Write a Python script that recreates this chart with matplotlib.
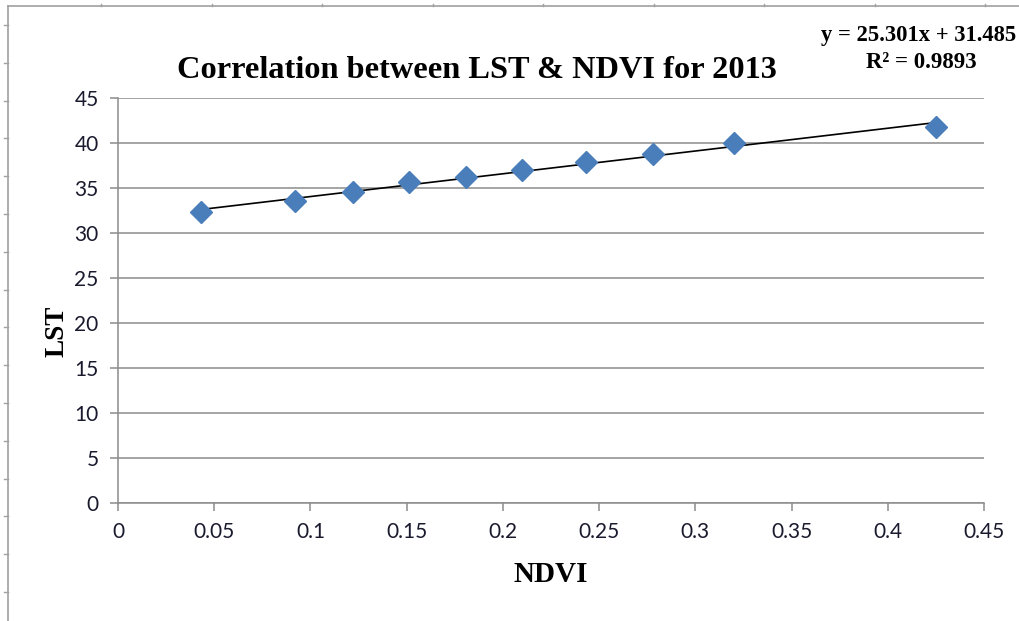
import matplotlib
matplotlib.use('Agg')
import matplotlib.pyplot as plt
from matplotlib.lines import Line2D
import numpy as np

# values
ndvi = [0.043, 0.092, 0.122, 0.151, 0.181, 0.210, 0.243, 0.278, 0.320, 0.425]
lst = [32.3, 33.5, 34.5, 35.6, 36.2, 37.0, 37.9, 38.7, 40.0, 41.7]
slope = 25.301
intercept = 31.485
eq_label = 'y = 25.301x + 31.485'
r2_label = 'R² = 0.9893'
x_ticks = [0, 0.05, 0.1, 0.15, 0.2, 0.25, 0.3, 0.35, 0.4, 0.45]
x_tick_labels = ['0', '0.05', '0.1', '0.15', '0.2', '0.25', '0.3', '0.35', '0.4', '0.45']
y_ticks = [0, 5, 10, 15, 20, 25, 30, 35, 40, 45]

serif = 'Liberation Serif'
grid_col = '#8c8c8c'

fig = plt.figure(figsize=(10.2, 6.21), dpi=100)
ax = fig.add_axes([118 / 1020, 0.1905, 866 / 1020, 0.6522])

ax.set_xlim(0, 0.45)
ax.set_ylim(0, 45)
ax.set_xticks(x_ticks)
ax.set_xticklabels(x_tick_labels)
ax.set_yticks(y_ticks)
ax.yaxis.grid(True, color=grid_col, linewidth=1.1)
ax.set_axisbelow(True)
for s in ['top', 'right']:
    ax.spines[s].set_visible(False)
for s in ['left', 'bottom']:
    ax.spines[s].set_color(grid_col)
    ax.spines[s].set_linewidth(1.1)
ax.tick_params(axis='both', direction='out', length=6, width=1.1, color=grid_col,
               labelsize=15, labelcolor='#1a1a2e', pad=8)
for lab in ax.get_xticklabels() + ax.get_yticklabels():
    lab.set_family('Lato')

# trend line across the data range
xs = np.array([min(ndvi), max(ndvi)])
ax.plot(xs, slope * xs + intercept, color='black', linewidth=1.2, zorder=3)
ax.plot(ndvi, lst, linestyle='none', marker='D', markersize=11.5,
        color='#4a7ebb', zorder=4, clip_on=False)

# axis titles
fig.text(551 / 1020, 1 - 575 / 621, 'NDVI', ha='center', va='center',
         family=serif, fontweight='bold', fontsize=21)
fig.text(57 / 1020, 1 - 331 / 621, 'LST', ha='center', va='center', rotation=90,
         family=serif, fontweight='bold', fontsize=19.5)

fig.text(477 / 1020, 1 - 70 / 621, 'Correlation between LST & NDVI for 2013',
         ha='center', va='center', family=serif, fontweight='bold', fontsize=23.3)
fig.text(1016 / 1020, 1 - 35 / 621, eq_label, ha='right', va='center',
         family=serif, fontweight='bold', fontsize=16.3)
fig.text(921 / 1020, 1 - 63 / 621, r2_label, ha='center', va='center',
         family=serif, fontweight='bold', fontsize=16.5)

# outer sheet frame with small ruler marks
frame_col = '#a0a0a0'
fx = 8 / 1020
fy = 1 - 6 / 621
fig.add_artist(Line2D([fx, fx], [0, fy], transform=fig.transFigure, color=frame_col, linewidth=1.2))
fig.add_artist(Line2D([fx, 1], [fy, fy], transform=fig.transFigure, color=frame_col, linewidth=1.2))
for px in np.arange(101.5, 1020, 110.5):
    fig.add_artist(Line2D([px / 1020, px / 1020], [fy, fy + 2 / 621],
                          transform=fig.transFigure, color=frame_col, linewidth=1))
for py in np.arange(25, 621, 37.8):
    fig.add_artist(Line2D([4 / 1020, fx], [1 - py / 621, 1 - py / 621],
                          transform=fig.transFigure, color=frame_col, linewidth=1))

fig.savefig('out.png', dpi=100)
